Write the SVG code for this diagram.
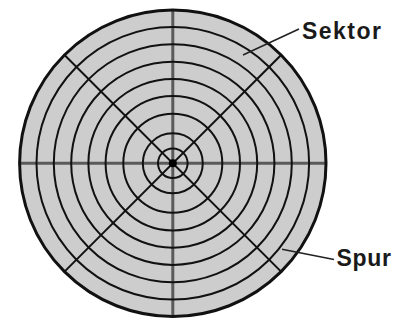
<svg xmlns="http://www.w3.org/2000/svg" width="409" height="320" viewBox="0 0 409 320">
  <style>
    .ring { fill: none; stroke: #111; stroke-width: 2; }
    .axis { stroke: #5a5a5a; stroke-width: 3; }
    .diag { stroke: #111; stroke-width: 2; }
    .leader { stroke: #222; stroke-width: 1.6; fill: none; }
    .lbl { font-family: "Liberation Sans", Arial, sans-serif; font-weight: bold; font-size: 23px; fill: #1a1a1a; }
  </style>
  <rect width="409" height="320" fill="#ffffff"/>
  <g id="disk">
    <circle cx="172.8" cy="163.3" r="153.2" fill="#cdcdcd"/>
    <g id="sectors">
      <line class="axis" x1="172.8" y1="10" x2="172.8" y2="316.5"/>
      <line class="axis" x1="19.5" y1="163.3" x2="326" y2="163.3"/>
      <line class="diag" x1="64.5" y1="55" x2="281.1" y2="271.6"/>
      <line class="diag" x1="281.1" y1="55" x2="64.5" y2="271.6"/>
    </g>
    <g id="tracks">
      <circle class="ring" cx="172.8" cy="163.3" r="136.3"/>
      <circle class="ring" cx="172.8" cy="163.3" r="119"/>
      <circle class="ring" cx="172.8" cy="163.3" r="101.6"/>
      <circle class="ring" cx="172.8" cy="163.3" r="84.4"/>
      <circle class="ring" cx="172.8" cy="163.3" r="67.2"/>
      <circle class="ring" cx="172.8" cy="163.3" r="49.5"/>
      <circle class="ring" cx="172.8" cy="163.3" r="30"/>
      <circle class="ring" cx="172.8" cy="163.3" r="14.8"/>
    </g>
    <circle cx="172.8" cy="163.3" r="153.2" fill="none" stroke="#111" stroke-width="3"/>
    <circle cx="172.8" cy="163.3" r="4" fill="#000"/>
  </g>
  <g id="connectors">
    <line class="leader" x1="243" y1="55" x2="299" y2="29"/>
    <line class="leader" x1="282" y1="249.3" x2="334" y2="259.5"/>
  </g>
  <g id="label-sektor">
    <text class="lbl" x="302" y="39" textLength="79" lengthAdjust="spacing">Sektor</text>
  </g>
  <g id="label-spur">
    <text class="lbl" x="336.5" y="266" textLength="54.5" lengthAdjust="spacing">Spur</text>
  </g>
</svg>
